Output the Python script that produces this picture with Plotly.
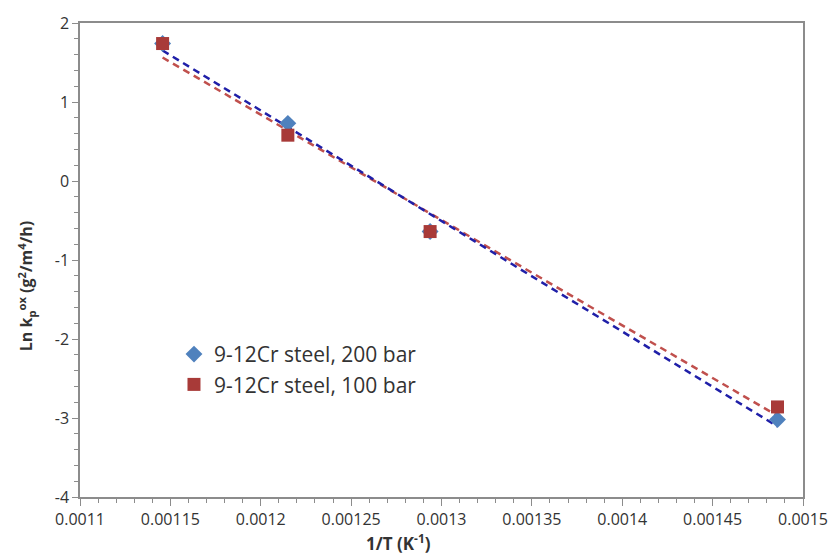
import numpy as np
import plotly.graph_objects as go

inv_T = [0.0011457, 0.001215, 0.0012937, 0.0014859]
ln_kp_200 = [1.74, 0.73, -0.64, -3.02]
ln_kp_100 = [1.74, 0.58, -0.64, -2.86]
x_ticks = [0.0011, 0.00115, 0.0012, 0.00125, 0.0013, 0.00135, 0.0014, 0.00145, 0.0015]
x_tick_labels = ["0.0011", "0.00115", "0.0012", "0.00125", "0.0013", "0.00135", "0.0014", "0.00145", "0.0015"]
y_ticks = [-4, -3, -2, -1, 0, 1, 2]
y_tick_labels = ["-4", "-3", "-2", "-1", "0", "1", "2"]
names = ["9-12Cr steel, 200 bar", "9-12Cr steel, 100 bar"]

x = np.array(inv_T)
xf = np.array([x.min(), x.max()])

fig = go.Figure()
fits = []
for y in (ln_kp_200, ln_kp_100):
    p = np.polyfit(x, np.array(y), 1)
    fits.append(np.polyval(p, xf))

fig.add_trace(go.Scatter(x=xf, y=fits[1], mode="lines", showlegend=False,
                         line=dict(color="#C0504D", width=2.5, dash="7px,5px")))
fig.add_trace(go.Scatter(x=xf, y=fits[0], mode="lines", showlegend=False,
                         line=dict(color="#1F1FA8", width=2.5, dash="7px,5px")))
fig.add_trace(go.Scatter(x=inv_T, y=ln_kp_200, mode="markers", name=names[0],
                         legendgroup="a",
                         marker=dict(symbol="diamond", size=13, color="#4F81BD")))
fig.add_trace(go.Scatter(x=inv_T, y=ln_kp_100, mode="markers", name=names[1],
                         legendgroup="b",
                         marker=dict(symbol="square", size=13, color="#A83A38")))

font_fam = "Open Sans, Liberation Sans, sans-serif"
tick_col = "#8C8C8C"
fig.update_layout(
    width=840, height=560,
    margin=dict(l=80, r=25, t=20, b=63),
    paper_bgcolor="white", plot_bgcolor="white",
    font=dict(family=font_fam, size=16, color="#333"),
    legend=dict(x=0.13, y=0.344, xanchor="left", yanchor="top",
                bgcolor="rgba(0,0,0,0)", font=dict(size=21, color="#333"),
                traceorder="normal", itemwidth=30, tracegroupgap=3),
    xaxis=dict(range=[0.0011, 0.0015], tickvals=x_ticks, ticktext=x_tick_labels,
               showgrid=False, zeroline=False, showline=True, linecolor=tick_col,
               linewidth=1.5, mirror=True, ticks="outside", ticklen=7, tickcolor=tick_col,
               tickfont=dict(size=16),
               minor=dict(dtick=0.00001, ticks="outside", ticklen=4, tickcolor=tick_col)),
    yaxis=dict(range=[-4, 2], tickvals=y_ticks, ticktext=y_tick_labels,
               showgrid=False, zeroline=False, showline=True, linecolor=tick_col,
               linewidth=1.5, mirror=True, ticks="outside", ticklen=6, tickcolor=tick_col,
               tickfont=dict(size=16),
               minor=dict(dtick=0.2, ticks="outside", ticklen=4, tickcolor=tick_col)),
    annotations=[
        dict(text="<b>1/T (K<sup>-1</sup>)</b>", xref="paper", yref="paper",
             x=(404 - 80) / 735, y=-(557 - 497) / 477, xanchor="center", yanchor="bottom",
             showarrow=False, font=dict(size=17, color="#333")),
        dict(text="<b>Ln k<sub>p</sub><sup>ox</sup> (g<sup>2</sup>/m<sup>4</sup>/h)</b>",
             xref="paper", yref="paper", textangle=-90,
             x=-(80 - 25) / 735, y=(497 - 285) / 477, xanchor="center", yanchor="middle",
             showarrow=False, font=dict(size=16, color="#333")),
    ],
)

fig.write_html("out.html")
